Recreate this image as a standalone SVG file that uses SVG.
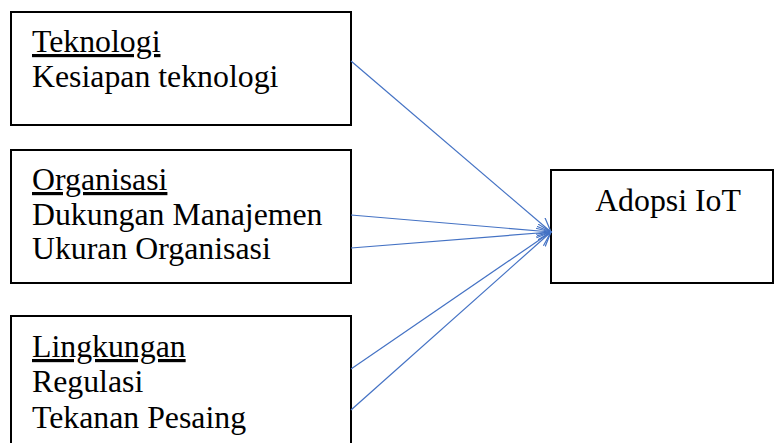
<svg xmlns="http://www.w3.org/2000/svg" width="774" height="443" viewBox="0 0 774 443">
<style>
.box{fill:#fff;stroke:#000;stroke-width:2}
.t{font-family:"Liberation Serif","Times New Roman",serif;font-size:31.8px;fill:#000}
.u{text-decoration:underline}
.c{stroke:#4472C4;stroke-width:1.2;fill:none;marker-end:url(#ah)}
</style>
<defs>
<marker id="ah" markerWidth="16" markerHeight="16" refX="14" refY="7" orient="auto" markerUnits="userSpaceOnUse">
<path d="M0,0 L14,7 L0,14" fill="none" stroke="#4472C4" stroke-width="1.2"/>
</marker>
</defs>
<g id="teknologi">
<rect class="box" x="11" y="12" width="340" height="113"/>
<text class="t" x="32" y="52"><tspan class="u">Teknologi</tspan></text>
<text class="t" x="32" y="87">Kesiapan teknologi</text>
</g>
<g id="organisasi">
<rect class="box" x="11" y="150" width="340" height="133"/>
<text class="t" x="32" y="190"><tspan class="u">Organisasi</tspan></text>
<text class="t" x="32" y="225">Dukungan Manajemen</text>
<text class="t" x="32" y="259">Ukuran Organisasi</text>
</g>
<g id="lingkungan">
<rect class="box" x="11" y="316" width="340" height="140"/>
<text class="t" x="32" y="357"><tspan class="u">Lingkungan</tspan></text>
<text class="t" x="32" y="392">Regulasi</text>
<text class="t" x="32" y="428">Tekanan Pesaing</text>
</g>
<g id="adopsi">
<rect class="box" x="551" y="170" width="222" height="113"/>
<text class="t" x="668" y="211" text-anchor="middle">Adopsi IoT</text>
</g>
<g id="connectors">
<line class="c" x1="351" y1="61" x2="551" y2="232"/>
<line class="c" x1="351" y1="215" x2="551" y2="232"/>
<line class="c" x1="351" y1="248" x2="551" y2="232"/>
<line class="c" x1="351" y1="369" x2="551" y2="232"/>
<line class="c" x1="351" y1="410" x2="551" y2="232"/>
</g>
</svg>
